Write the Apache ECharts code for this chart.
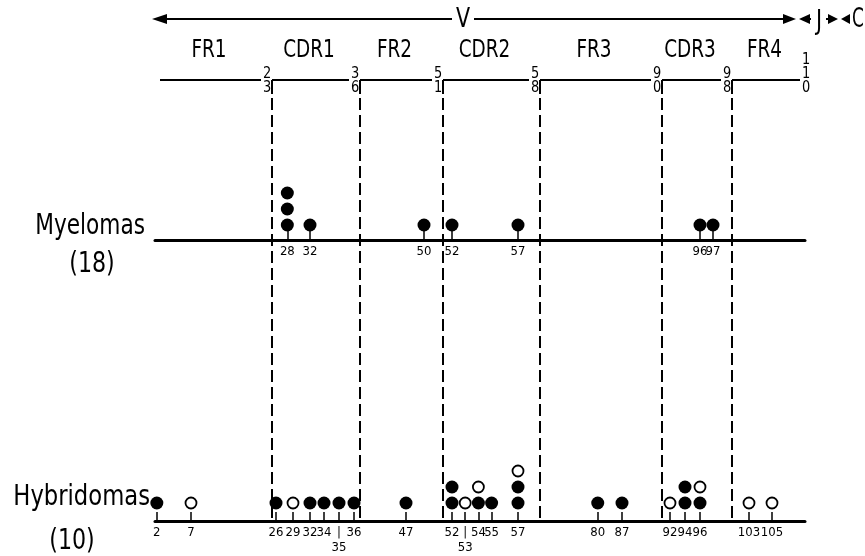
<!DOCTYPE html>
<html>
<head>
<meta charset="utf-8">
<title>Myelomas / Hybridomas</title>
<script src="https://cdn.jsdelivr.net/npm/echarts@6/dist/echarts.min.js"></script>
<style>html,body{margin:0;background:#fff}</style>
</head>
<body>
<div id="main" style="width:865px;height:556px;"></div>
<script>
var regionNames = ['FR1', 'CDR1', 'FR2', 'CDR2', 'FR3', 'CDR3', 'FR4'];
var boundaryLabels = ['23', '36', '51', '58', '90', '98', '110'];

var myelomaResidues = [28, 32, 50, 52, 57, 96, 97];
var myelomaFilled = [3, 1, 1, 1, 1, 1, 1];

var hybridomaResidues = [2, 7, 26, 29, 32, 34, 35, 36, 47, 52, 53, 54, 55, 57, 80, 87, 92, 94, 96, 103, 105];
var hybridomaFilled = [1, 0, 1, 0, 1, 1, 1, 1, 1, 2, 0, 1, 1, 2, 1, 1, 0, 2, 1, 0, 0];
var hybridomaOpen = [0, 1, 0, 1, 0, 0, 0, 0, 0, 0, 1, 1, 0, 1, 0, 0, 1, 0, 1, 1, 1];
var lowLabels = [35, 53];

// the drawing is schematic: residue number -> place along the axis, piecewise linear
var residueKnots = [[1, 150], [7, 191], [26, 276], [32, 310], [34, 324], [36, 354], [47, 406], [50, 424],
  [52, 452], [57, 518], [87, 622], [92, 670], [96, 700], [97, 713], [103, 749], [105, 772], [110, 805]];
// region edges on the same axis (last one is where "110" sits)
var boundaryPos = [272, 360, 443, 540, 662, 732, 811];

var FONT = "'DejaVu Sans Condensed', 'Liberation Sans Narrow', 'DejaVu Sans', sans-serif";

function warp(r) {
  for (var i = 1; i < residueKnots.length; i++) {
    var a = residueKnots[i - 1], b = residueKnots[i];
    if (r <= b[0]) return a[1] + (r - a[0]) * (b[1] - a[1]) / (b[0] - a[0]);
  }
  return residueKnots[residueKnots.length - 1][1];
}

function stackPoints(residues, counts, below) {
  var out = [];
  residues.forEach(function (r, i) {
    var start = below ? below[i] : 0;
    for (var k = 1; k <= counts[i]; k++) out.push([warp(r), start + k]);
  });
  return out;
}

function panelAxis(gridIndex, residues) {
  var vals = residues.map(warp);
  return {
    type: 'value', gridIndex: gridIndex, min: 155, max: 805,
    splitLine: {show: false},
    axisLine: {show: true, onZero: false, lineStyle: {color: '#000', width: 3}},
    axisTick: {show: true, inside: true, length: 9, customValues: vals,
      lineStyle: {color: '#000', width: 1.5}},
    axisLabel: {
      show: true, margin: 4, color: '#000',
      // blank labels at both ends so the real end labels never get dropped as overlapping
      customValues: [155].concat(vals, [805]),
      showMinLabel: true, showMaxLabel: true, hideOverlap: false,
      fontFamily: FONT, fontSize: 13, lineHeight: 15,
      formatter: function (v) {
        var best = 0;
        vals.forEach(function (x, i) { if (Math.abs(x - v) < Math.abs(vals[best] - v)) best = i; });
        if (Math.abs(vals[best] - v) > 1) return '';
        var r = residues[best];
        return lowLabels.indexOf(r) >= 0 && gridIndex === 1 ? '|\n' + r : String(r);
      }
    }
  };
}

function arrowHead(tipX, y, dir, len, half) {
  return {type: 'polygon', shape: {points: [[tipX, y], [tipX - dir * len, y - half], [tipX - dir * len, y + half]]},
    style: {fill: '#000'}};
}
function hline(x1, x2, y) {
  return {type: 'line', shape: {x1: x1, y1: y, x2: x2, y2: y}, style: {stroke: '#000', lineWidth: 2}};
}
function label(text, x, y, size, align, sx) {
  return {type: 'text', x: x, y: y, scaleX: sx || 0.85, style: {text: text, fill: '#000', font: size + 'px ' + FONT,
    align: align || 'center', verticalAlign: 'middle'}};
}

var chart = echarts.init(document.getElementById('main'));

var AY = 19;
chart.setOption({
  animation: false,
  grid: [
    {left: 155, right: 60, top: 176, height: 64},
    {left: 155, right: 60, top: 457, height: 64},
    {left: 155, right: 60, top: 0, height: 556}
  ],
  xAxis: [
    panelAxis(0, myelomaResidues),
    panelAxis(1, hybridomaResidues),
    {type: 'value', gridIndex: 2, min: 155, max: 805, show: false}
  ],
  yAxis: [
    {type: 'value', gridIndex: 0, min: 0.0625, max: 4.0625, show: false},
    {type: 'value', gridIndex: 1, min: -0.125, max: 3.875, show: false},
    {type: 'value', gridIndex: 2, min: 0, max: 556, inverse: true, show: false}
  ],
  graphic: [
    arrowHead(152, AY, -1, 15, 5), hline(160, 452, AY),
    label('V', 463, AY + 1, 27),
    hline(474, 784, AY), arrowHead(796, AY, 1, 13, 5),
    arrowHead(799, AY, -1, 11, 5), hline(808, 811, AY),
    label('J', 819, AY + 3, 27),
    hline(826, 829, AY), arrowHead(838, AY, 1, 10, 5),
    arrowHead(841, AY, -1, 9, 5),
    label('C', 858, AY + 1, 27, 'center', 0.7),
    label('Myelomas', 145, 226, 29, 'right', 0.83),
    label('(18)', 92, 264, 29),
    label('Hybridomas', 150, 497, 29, 'right', 0.87),
    label('(10)', 72, 541, 29)
  ],
  series: [
    {
      type: 'custom', xAxisIndex: 2, yAxisIndex: 2, silent: true, clip: false,
      data: regionNames.map(function (n, i) { return [i]; }),
      renderItem: function (params, api) {
        var i = api.value(0);
        var start = i === 0 ? 160 : boundaryPos[i - 1];
        var end = boundaryPos[i];
        var P = function (x, y) { return api.coord([x, y]); };
        var kids = [];
        var a = P(start, 80), b = P(end - 11, 80);
        kids.push({type: 'line', shape: {x1: a[0], y1: a[1], x2: b[0], y2: b[1]},
          style: {stroke: '#000', lineWidth: 2}});
        if (i > 0) {
          var v1 = P(start, 94), v2 = P(start, 521);
          kids.push({type: 'line', shape: {x1: a[0], y1: a[1], x2: v1[0], y2: v1[1]},
            style: {stroke: '#000', lineWidth: 2}});
          kids.push({type: 'line', shape: {x1: v1[0], y1: v1[1] + 4, x2: v2[0], y2: v2[1]},
            style: {stroke: '#000', lineWidth: 2, lineDash: [12, 5]}});
        }
        var t = P(end - 5, 95);
        kids.push({type: 'text', x: t[0], y: t[1], scaleX: 0.9, style: {
          text: boundaryLabels[i].split('').join('\n'), fill: '#000', font: '16px ' + FONT,
          lineHeight: 14, align: 'center', verticalAlign: 'bottom'}});
        var m = P((start + end) / 2 - 7, 50);
        kids.push({type: 'text', x: m[0], y: m[1], scaleX: 0.82, style: {
          text: regionNames[i], fill: '#000', font: '25px ' + FONT, align: 'center', verticalAlign: 'middle'}});
        return {type: 'group', children: kids};
      }
    },
    {
      type: 'scatter', xAxisIndex: 0, yAxisIndex: 0, symbolSize: 13, silent: true,
      itemStyle: {color: '#000', opacity: 1},
      data: stackPoints(myelomaResidues, myelomaFilled)
    },
    {
      type: 'scatter', xAxisIndex: 1, yAxisIndex: 1, symbolSize: 13, silent: true,
      itemStyle: {color: '#000', opacity: 1},
      data: stackPoints(hybridomaResidues, hybridomaFilled)
    },
    {
      type: 'scatter', xAxisIndex: 1, yAxisIndex: 1, symbolSize: 11, silent: true,
      itemStyle: {color: '#fff', borderColor: '#000', borderWidth: 1.8, opacity: 1},
      data: stackPoints(hybridomaResidues, hybridomaOpen, hybridomaFilled)
    }
  ]
});
</script>
</body>
</html>
